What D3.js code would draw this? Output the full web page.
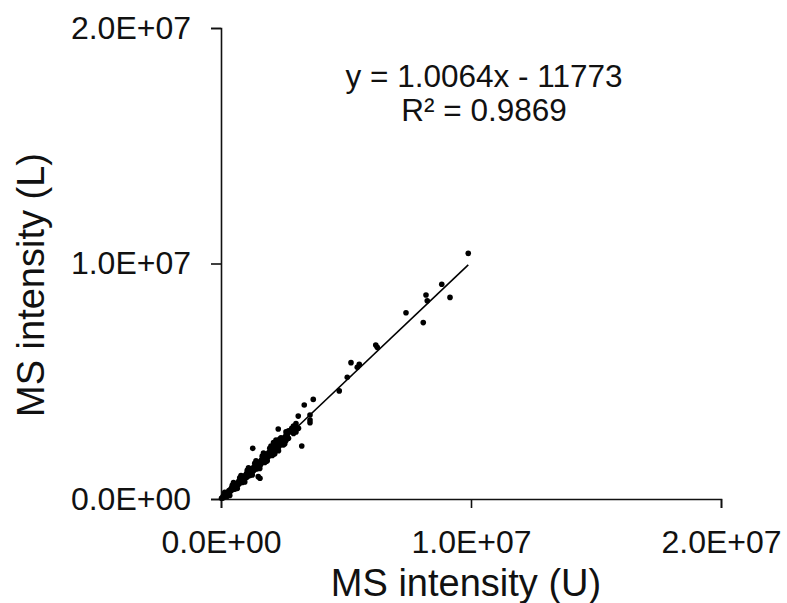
<!DOCTYPE html>
<html>
<head>
<meta charset="utf-8">
<script src="https://cdn.jsdelivr.net/npm/d3@7"></script>
<style>
  body { margin: 0; background: #fff; }
  svg { display: block; font-family: "Liberation Sans", Arial, sans-serif; }
</style>
</head>
<body>
<div id="chart"></div>
<script>
// MS intensity, unlabelled (U) vs labelled (L)
const xU = [
  0.02e6, 0.05e6, 0.08e6, 0.10e6, 0.12e6, 0.15e6, 0.18e6, 0.20e6, 0.22e6, 0.25e6,
  0.28e6, 0.30e6, 0.32e6, 0.35e6, 0.38e6, 0.40e6, 0.42e6, 0.45e6, 0.48e6, 0.50e6,
  0.52e6, 0.55e6, 0.58e6, 0.60e6, 0.62e6, 0.65e6, 0.68e6, 0.70e6, 0.72e6, 0.75e6,
  0.78e6, 0.80e6, 0.82e6, 0.85e6, 0.88e6, 0.90e6, 0.92e6, 0.95e6, 0.98e6, 1.00e6,
  1.02e6, 1.05e6, 1.08e6, 1.10e6, 1.12e6, 1.15e6, 1.18e6, 1.20e6, 1.22e6, 1.25e6,
  1.28e6, 1.30e6, 1.32e6, 1.35e6, 1.38e6, 1.40e6, 1.42e6, 1.45e6, 1.48e6, 1.50e6,
  1.55e6, 1.58e6, 1.62e6, 1.65e6, 1.70e6, 1.72e6, 1.78e6, 1.80e6, 1.85e6, 1.88e6,
  1.92e6, 1.95e6, 2.00e6, 2.05e6, 2.10e6, 2.12e6, 2.18e6, 2.22e6, 2.28e6, 2.30e6,
  2.35e6, 2.40e6, 2.45e6, 2.50e6, 2.55e6, 2.60e6, 2.65e6, 2.70e6, 2.90e6, 2.95e6,
  3.00e6, 2.10e6, 2.40e6, 2.60e6, 2.90e6, 3.00e6, 2.70e6, 3.10e6, 2.50e6, 2.20e6,
  0.15e6, 0.30e6, 0.45e6, 0.60e6, 0.75e6, 0.90e6, 1.05e6, 1.20e6, 1.35e6, 1.50e6,
  1.65e6, 1.80e6, 1.95e6, 2.10e6, 0.25e6, 0.55e6, 0.85e6, 1.15e6, 1.45e6, 1.75e6,
  2.05e6, 2.35e6, 2.55e6,
  0.35e6, 0.65e6, 0.95e6, 1.25e6, 1.55e6, 1.85e6, 2.15e6, 0.50e6, 0.80e6, 1.10e6,
  1.40e6, 1.70e6, 2.00e6, 2.30e6, 2.60e6,
  1.27e6, 1.49e6, 1.56e6, 1.83e6, 2.29e6, 2.76e6, 2.83e6, 3.09e6, 3.23e6, 3.33e6,
  3.56e6, 3.56e6, 3.56e6, 3.69e6, 4.73e6, 5.05e6, 5.20e6, 5.45e6, 5.53e6, 6.19e6,
  6.25e6, 7.40e6, 8.09e6, 8.20e6, 8.25e6, 8.83e6, 9.16e6, 9.89e6
];
const yL = [
  0.03e6, 0.04e6, 0.10e6, 0.06e6, 0.15e6, 0.12e6, 0.20e6, 0.16e6, 0.25e6, 0.21e6,
  0.30e6, 0.26e6, 0.36e6, 0.31e6, 0.40e6, 0.35e6, 0.46e6, 0.40e6, 0.50e6, 0.44e6,
  0.56e6, 0.49e6, 0.60e6, 0.53e6, 0.66e6, 0.58e6, 0.70e6, 0.62e6, 0.77e6, 0.68e6,
  0.80e6, 0.72e6, 0.87e6, 0.77e6, 0.90e6, 0.82e6, 0.97e6, 0.86e6, 1.00e6, 0.90e6,
  1.08e6, 0.95e6, 1.10e6, 1.00e6, 1.18e6, 1.05e6, 1.20e6, 1.10e6, 1.28e6, 1.15e6,
  1.30e6, 1.20e6, 1.37e6, 1.25e6, 1.40e6, 1.30e6, 1.48e6, 1.35e6, 1.52e6, 1.40e6,
  1.58e6, 1.45e6, 1.66e6, 1.55e6, 1.75e6, 1.62e6, 1.82e6, 1.70e6, 1.92e6, 1.78e6,
  1.98e6, 1.85e6, 2.08e6, 1.95e6, 2.15e6, 2.02e6, 2.25e6, 2.10e6, 2.35e6, 2.20e6,
  2.45e6, 2.30e6, 2.55e6, 2.40e6, 2.62e6, 2.48e6, 2.72e6, 2.58e6, 2.78e6, 3.05e6,
  2.85e6, 2.40e6, 2.60e6, 2.70e6, 3.10e6, 3.20e6, 2.90e6, 3.00e6, 2.30e6, 2.50e6,
  0.28e6, 0.18e6, 0.58e6, 0.45e6, 0.90e6, 0.75e6, 1.22e6, 1.05e6, 1.52e6, 1.33e6,
  1.82e6, 1.60e6, 2.15e6, 1.90e6, 0.12e6, 0.42e6, 0.70e6, 1.00e6, 1.28e6, 1.55e6,
  1.85e6, 2.55e6, 2.35e6,
  0.15e6, 0.45e6, 0.72e6, 1.02e6, 1.30e6, 1.62e6, 1.92e6, 0.70e6, 1.00e6, 1.32e6,
  1.62e6, 1.95e6, 2.25e6, 2.05e6, 2.85e6,
  2.15e6, 0.95e6, 0.88e6, 1.87e6, 2.97e6, 2.86e6, 3.00e6, 3.52e6, 2.25e6, 3.99e6,
  3.35e6, 3.24e6, 3.57e6, 4.23e6, 4.59e6, 5.17e6, 5.79e6, 5.59e6, 5.72e6, 6.54e6,
  6.44e6, 7.91e6, 7.49e6, 8.66e6, 8.42e6, 9.12e6, 8.56e6, 10.43e6
];
const xTicks = [0, 1e7, 2e7];
const yTicks = [0, 1e7, 2e7];
const slope = 1.0064;
const intercept = -11773;
const eqText = 'y = 1.0064x - 11773';
const r2Text = 'R² = 0.9869';
const xTitle = 'MS intensity (U)';
const yTitle = 'MS intensity (L)';

const w = 787;
const h = 603;
const margin = { top: 28, right: 66, bottom: 104, left: 221 };

const points = xU.map((x, i) => ({ x, y: yL[i] }));

const xScale = d3.scaleLinear()
  .domain([0, 2e7])
  .range([margin.left, w - margin.right]);

const yScale = d3.scaleLinear()
  .domain([0, 2e7])
  .range([h - margin.bottom, margin.top]);

const svg = d3.select('#chart')
  .append('svg')
  .attr('width', w)
  .attr('height', h);

const fmt = d => d3.format('.1e')(d).replace('e', 'E').replace(/E([+-])(\d)$/, 'E$10$2');

// axes
const xAxis = d3.axisBottom(xScale)
  .tickValues(xTicks)
  .tickFormat(fmt)
  .tickSize(9)
  .tickPadding(22);

const yAxis = d3.axisLeft(yScale)
  .tickValues(yTicks)
  .tickFormat(fmt)
  .tickSize(10)
  .tickPadding(20);

svg.append('g')
  .classed('x-axis', true)
  .attr('transform', `translate(0, ${h - margin.bottom})`)
  .call(xAxis);

svg.append('g')
  .classed('y-axis', true)
  .attr('transform', `translate(${margin.left}, 0)`)
  .call(yAxis);

svg.selectAll('.domain, .tick line')
  .attr('stroke', '#111')
  .attr('stroke-width', 1.6);

svg.selectAll('.tick text')
  .attr('fill', '#111')
  .style('font-size', '32px')
  .style('font-family', '"Liberation Sans", Arial, sans-serif');

// points
svg.append('g')
  .selectAll('circle')
  .data(points)
  .join('circle')
  .attr('cx', d => xScale(d.x))
  .attr('cy', d => yScale(d.y))
  .attr('r', 2.8)
  .attr('fill', '#000');

// linear trendline
const xExt = d3.extent(xU);
svg.append('line')
  .attr('x1', xScale(xExt[0]))
  .attr('y1', yScale(slope * xExt[0] + intercept))
  .attr('x2', xScale(xExt[1]))
  .attr('y2', yScale(slope * xExt[1] + intercept))
  .attr('stroke', '#000')
  .attr('stroke-width', 1.6);

// equation
const eq = svg.append('g')
  .attr('fill', '#111')
  .style('font-size', '31.5px')
  .attr('text-anchor', 'middle');
eq.append('text').attr('x', 484).attr('y', 87).text(eqText);
eq.append('text').attr('x', 484).attr('y', 121).text(r2Text);

// axis titles
svg.append('text')
  .attr('x', 466)
  .attr('y', 596)
  .attr('text-anchor', 'middle')
  .attr('fill', '#111')
  .style('font-size', '38px')
  .text(xTitle);

svg.append('text')
  .attr('transform', 'translate(44, 285) rotate(-90)')
  .attr('text-anchor', 'middle')
  .attr('fill', '#111')
  .style('font-size', '38px')
  .text(yTitle);
</script>
</body>
</html>
